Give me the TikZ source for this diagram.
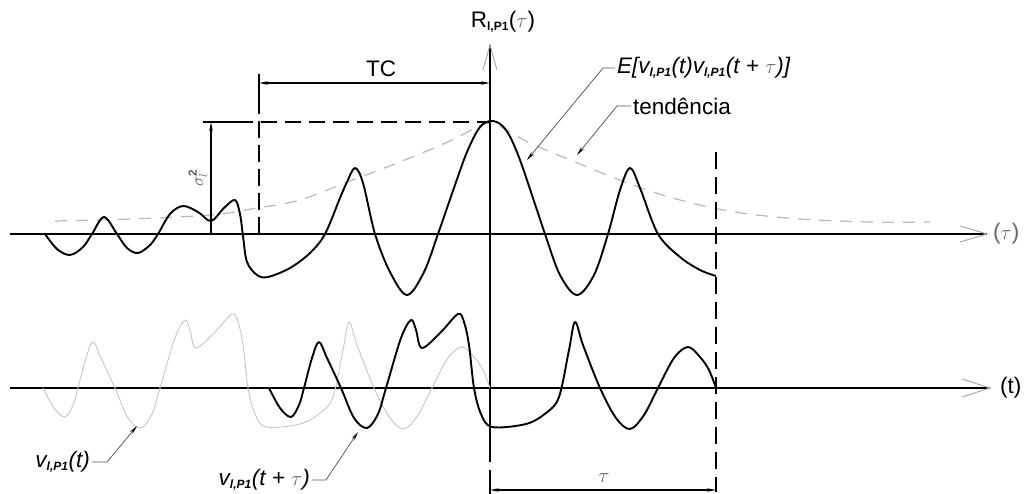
\documentclass[tikz,border=0pt]{standalone}
\usepackage{fontspec}
\setmainfont{Liberation Sans}
\usetikzlibrary{arrows.meta,calc}
\newcommand\sbx[1]{\textsubscript{\fontsize{12}{12}\selectfont\bfseries #1}}
\newcommand\tauc{{\color{gray!80!black}$\tau$}}
\begin{document}
\begin{tikzpicture}[x=1pt,y=-1pt,
  axis/.style={line width=1.3pt,black},
  curve/.style={line width=1.9pt,black,line join=round},
  ghost/.style={line width=0.9pt,gray!45},
  dashblk/.style={line width=1.5pt,black,dash pattern=on 16pt off 8pt},
  trend/.style={line width=1.2pt,gray!55,dash pattern=on 12pt off 9pt},
  openarr/.style={line width=0.9pt,gray!70},
  dim/.style={line width=1.1pt,black,{Stealth[length=9pt,width=3.5pt]}-{Stealth[length=9pt,width=3.5pt]}},
  leader/.style={line width=0.8pt,gray!70!black,-{Stealth[length=9pt,width=3.5pt,black]}},
  lbl/.style={inner sep=0pt,font=\fontsize{22.5}{25}\selectfont},
]
\useasboundingbox (0,0) rectangle (1029,494);

% coordinates
\coordinate (ua0) at (10,234);
\coordinate (ua1) at (987,234);
\coordinate (la0) at (10,388);
\coordinate (la1) at (990,388);
\coordinate (va0) at (490,462);
\coordinate (va1) at (490,45);
\coordinate (vb0) at (490,470);
\coordinate (vb1) at (490,494);
\coordinate (tcTop) at (259,74);
\coordinate (tcBot) at (259,234);
\coordinate (tcL) at (259,83);
\coordinate (tcR) at (490,83);
\coordinate (sgL) at (203,122);
\coordinate (sgR) at (490,122);
\coordinate (sgB) at (211,234);
\coordinate (sgT) at (211,122);
\coordinate (tauTop) at (716,152);
\coordinate (tauBot) at (716,492);
\coordinate (tauL) at (490,490);
\coordinate (tauR) at (716,490);
\coordinate (tipE) at (527,160);
\coordinate (tipT) at (577,155);
\coordinate (tipV) at (137,426);
\coordinate (tipW) at (358,432);

% trend
\draw[trend] plot[smooth,tension=0.6] coordinates {(55,221) (130,219) (211,215) (257,208) (300,200) (350,181) (400,162) (450,141) (475,128) (490,123) (505,129) (530,143) (580,164) (630,184) (680,200) (735,212) (800,219) (870,222) (930,222)};

% axes
\draw[axis] (ua0) -- (ua1);
\draw[openarr] ($(ua1)+(-27,-8)$) -- (ua1) -- ($(ua1)+(-27,8)$);
\draw[axis] (la0) -- (la1);
\draw[openarr] ($(la1)+(-28,-9)$) -- (la1) -- ($(la1)+(-28,9)$);
\draw[axis] (va0) -- (va1);
\draw[openarr] ($(va1)+(-7,25)$) -- (va1) -- ($(va1)+(7,25)$);
\draw[axis] (vb0) -- (vb1);

% dashed guides
\draw[dashblk,dash pattern=on 40pt off 7pt on 17pt off 7pt on 17pt off 7pt on 17pt off 7pt on 17pt off 7pt on 17pt off 7pt on 17pt off 7pt] (tcTop) -- (tcBot);
\draw[dashblk,dash pattern=on 50pt off 8pt on 16pt off 8pt on 16pt off 8pt on 16pt off 8pt on 16pt off 8pt on 16pt off 8pt on 16pt off 8pt on 16pt off 8pt on 16pt off 8pt on 16pt off 8pt on 16pt off 8pt on 16pt off 8pt] (sgL) -- (sgR);
\draw[dashblk,dash pattern=on 17pt off 8pt] (tauTop) -- (tauBot);

% dimension arrows
\draw[dim] (tcL) -- (tcR);
\draw[line width=1.1pt,-{Stealth[length=9pt,width=3.5pt]}] (sgB) -- (sgT);
\draw[dim] (tauL) -- (tauR);

% upper black curve
\draw[curve] plot[smooth,tension=0.55] coordinates {(45,234) (57,249) (70,255) (83,247) (92,234) (104,217) (117,234) (127,248) (138,253) (150,245) (158,234) (170,214) (183,206) (198,212) (211,221) (224,208) (235,200) (240,214) (243,236) (247,262) (257,275) (268,277) (290,268) (310,253) (325,234) (340,198) (347,182) (355,168) (363,183) (375,234) (390,272) (407,295) (424,272) (438,234) (455,185) (467,152) (480,127) (493,121) (506,130) (520,160) (545,234) (560,275) (577,295) (594,275) (608,234) (620,190) (630,168) (640,188) (658,234) (680,257) (700,270) (716,276)};

% lower curves (same signal, shifted by tau)
\def\sig{(43,388) (54,408) (65,417) (73,405) (78,388) (86,358) (93,342) (101,358) (115,388) (128,418) (141,428) (152,414) (160,388) (175,338) (185,320) (190,330) (196,348) (215,332) (232,314) (238,322) (243,345) (248,388) (255,414) (266,427) (300,424) (320,413) (333,397) (343,350) (349,322) (357,345) (374,388) (390,418) (404,429) (418,415) (432,388) (448,358) (462,347) (474,357) (483,370) (490,388)}
\draw[ghost] plot[smooth,tension=0.55] coordinates {\sig};
\begin{scope}[xshift=226pt]
\draw[curve] plot[smooth,tension=0.55] coordinates {\sig};
\end{scope}

% labels
\node[lbl] (R) at (503,22) {R\sbx{l,P1}(\tauc)};
\node[lbl,anchor=west] (E) at (617,68) {\itshape E[v\sbx{l,P1}(t)v\sbx{l,P1}(t + \tauc)]};
\node[lbl,anchor=west] (tend) at (633,106) {tendência};
\node[lbl] (TC) at (381,69) {TC};
\node[lbl,anchor=west,text=gray!80!black] (tauax) at (993,234) {($\tau$)};
\node[lbl,anchor=west] (tax) at (1000,388) {(t)};
\node[lbl,text=gray!80!black] (taulbl) at (604,478) {$\tau$};
\node[inner sep=0pt,rotate=90,text=gray!75!black,font=\fontsize{17}{17}\selectfont] (sig) at (198,178) {$\sigma_l^{\mathbf{2}}$};
\node[lbl,anchor=east] (vlab) at (90,462) {\itshape v\sbx{l,P1}(t)};
\node[lbl,anchor=east] (wlab) at (310,480) {\itshape v\sbx{l,P1}(t + \tauc)};

% leaders
\draw[leader] ($(E.west)+(-2,0)$) -- ++(-12,0) -- (tipE);
\draw[leader] ($(tend.west)+(-2,0)$) -- ++(-14,0) -- (tipT);
\draw[leader] ($(vlab.east)+(2,0)$) -- ++(15,0) -- (tipV);
\draw[leader] ($(wlab.east)+(2,0)$) -- ++(14,0) -- (tipW);
\end{tikzpicture}
\end{document}
